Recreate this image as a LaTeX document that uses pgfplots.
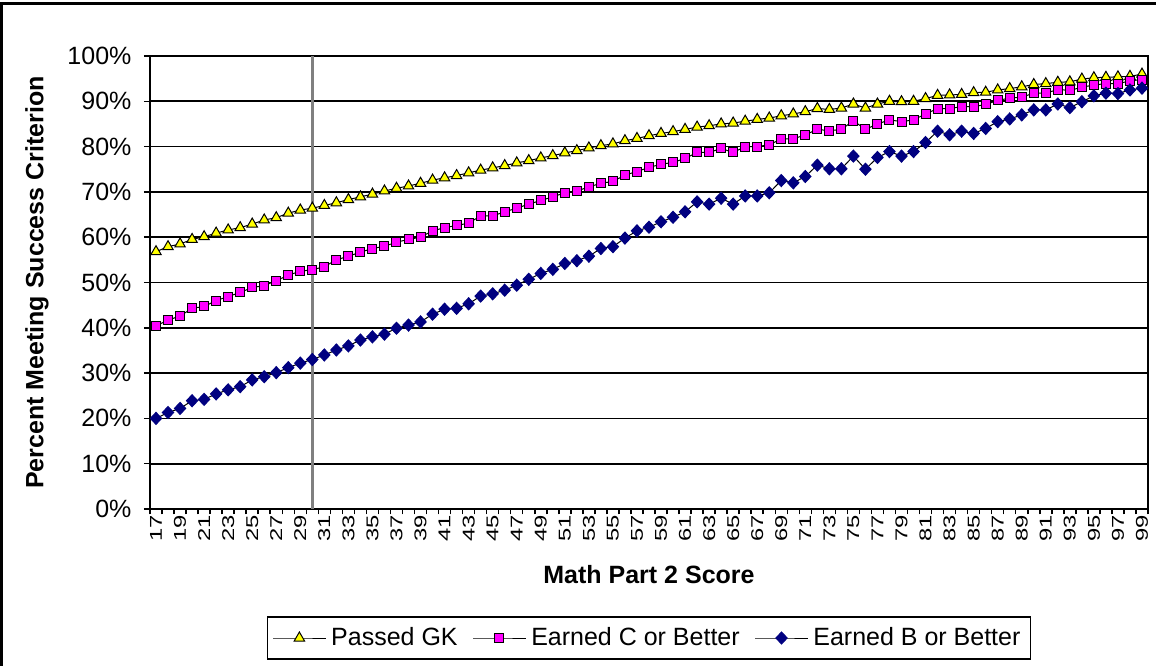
\documentclass[border=0pt]{standalone}
\usepackage{pgfplots}
\pgfplotsset{compat=1.18}
\usepackage{pgfplotstable}
\usepackage{fontspec}
\setmainfont{Liberation Sans}
\definecolor{gkyellow}{RGB}{255,255,0}
\definecolor{cmag}{RGB}{255,0,255}
\definecolor{bnavy}{RGB}{0,0,128}
\definecolor{refgray}{RGB}{128,128,128}

\pgfplotstableread{
s gk c b
17 56.8 40.4 20.0
18 57.9 41.7 21.3
19 58.5 42.6 22.2
20 59.5 44.3 23.9
21 60.1 44.7 24.2
22 60.9 46.0 25.4
23 61.6 46.9 26.3
24 62.1 47.8 27.0
25 62.9 48.9 28.5
26 63.8 49.3 29.2
27 64.3 50.4 30.1
28 65.3 51.6 31.2
29 66.0 52.5 32.2
30 66.4 52.8 33.0
31 67.0 53.5 34.0
32 67.6 55.0 35.1
33 68.3 55.8 36.0
34 68.9 56.7 37.3
35 69.5 57.5 38.0
36 70.2 58.0 38.6
37 70.8 58.9 39.9
38 71.3 59.5 40.6
39 71.9 60.0 41.3
40 72.6 61.4 43.0
41 73.1 62.1 44.1
42 73.6 62.6 44.3
43 74.2 63.1 45.3
44 74.8 64.7 47.0
45 75.3 64.7 47.5
46 75.8 65.6 48.3
47 76.4 66.4 49.4
48 76.9 67.3 50.7
49 77.5 68.1 52.0
50 78.0 68.9 52.9
51 78.6 69.8 54.2
52 79.1 70.2 54.8
53 79.7 71.1 55.8
54 80.2 71.9 57.5
55 80.6 72.3 57.9
56 81.3 73.7 59.8
57 81.8 74.5 61.4
58 82.4 75.4 62.2
59 82.9 76.1 63.4
60 83.3 76.5 64.4
61 83.8 77.4 65.6
62 84.3 78.7 67.8
63 84.6 78.7 67.3
64 85.0 79.6 68.6
65 85.2 78.7 67.3
66 85.6 80.0 69.1
67 86.0 80.0 69.1
68 86.3 80.4 69.8
69 86.8 81.7 72.5
70 87.2 81.7 72.0
71 87.7 82.6 73.4
72 88.4 83.8 75.9
73 88.2 83.5 75.1
74 88.5 83.8 75.1
75 89.4 85.7 77.9
76 88.5 83.8 75.0
77 89.4 85.0 77.6
78 90.0 85.9 78.9
79 89.9 85.5 77.9
80 90.0 85.9 78.9
81 90.6 87.2 80.9
82 91.3 88.4 83.4
83 91.4 88.4 82.6
84 91.5 88.8 83.4
85 91.9 88.8 82.9
86 92.0 89.3 84.0
87 92.5 90.2 85.5
88 92.8 90.7 86.1
89 93.2 90.9 87.0
90 93.7 91.8 88.1
91 93.9 91.8 88.1
92 94.2 92.6 89.4
93 94.3 92.4 88.6
94 94.9 93.1 89.9
95 95.2 93.6 91.2
96 95.3 93.9 91.8
97 95.4 93.9 91.7
98 95.5 94.5 92.5
99 96.0 94.8 92.9
}\datatable

\begin{document}
\begin{tikzpicture}
\begin{axis}[
  scale only axis,
  width=399.2pt, height=181.2pt,
  xmin=16.5, xmax=99.5,
  ymin=0, ymax=100,
  clip=false,
  axis line style={black, line width=0.7pt},
  xtick={17,19,...,99},
  major x tick style={draw=none},
  minor xtick={16.5,17.5,...,99.5},
  minor x tick style={black, line width=0.6pt},
  minor tick length=2.2pt,
  xtick pos=bottom,
  ytick={0,10,...,100},
  ytick pos=left,
  major y tick style={black, line width=0.6pt},
  major tick length=2.4pt,
  tick align=outside,
  ymajorgrids,
  grid style={black, line width=0.7pt},
  /pgf/number format/assume math mode=true,
  /pgf/number format/.cd, fixed, precision=0, /pgfplots/.cd,
  yticklabel={\pgfmathprintnumber{\tick}\%},
  yticklabel style={font=\fontsize{10}{12}\selectfont, xshift=-1.5pt},
  xticklabel={\scalebox{1}[0.72]{\pgfmathprintnumber{\tick}}},
  xticklabel style={yshift=3.5pt, rotate=90, anchor=east, font=\fontsize{9.5}{10}\selectfont},
  xlabel={\textbf{Math Part 2 Score}},
  ylabel={\textbf{Percent Meeting Success Criterion}},
  xlabel style={at={(axis description cs:0.5,-0.1457)}, anchor=center, font=\fontsize{10}{12}\selectfont},
  ylabel style={at={(axis description cs:-0.1132,0.5)}, anchor=center, font=\fontsize{10}{12}\selectfont},
  legend style={at={(axis description cs:0.5,-0.2848)}, anchor=center,
    legend columns=3, draw=black, line width=0.7pt, fill=white,
    font=\fontsize{10}{12}\selectfont, inner xsep=2pt, inner ysep=2pt,
    /tikz/every even column/.append style={column sep=4pt}},
  legend image code/.code={
    \draw[#1, line width=0.4pt, mark repeat=2, mark phase=2] plot coordinates {(0cm,0cm) (0.37cm,0cm) (0.74cm,0cm)};},
]
\addplot[refgray, line width=1.2pt, forget plot] coordinates {(30,0) (30,100)};
\addplot[black, line width=0.4pt, mark=triangle*, mark size=2.4pt,
  mark options={fill=gkyellow, draw=black, line width=0.4pt}] table[x=s, y=gk] {\datatable};
\addlegendentry{Passed GK}
\addplot[black, line width=0.4pt, mark=square*, mark size=1.8pt,
  mark options={fill=cmag, draw=black, line width=0.4pt}] table[x=s, y=c] {\datatable};
\addlegendentry{Earned C or Better}
\addplot[black, line width=0.4pt, mark=diamond*, mark size=2.4pt,
  mark options={fill=bnavy, draw=bnavy, xscale=1.25}] table[x=s, y=b] {\datatable};
\addlegendentry{Earned B or Better}
\end{axis}
\draw[black, line width=1.2pt] (-59.5pt,-62.8pt) -- (-59.5pt,202pt) -- (402.4pt,202pt);
\pgfresetboundingbox
\useasboundingbox (-60pt,-62.8pt) rectangle (402.4pt,203.6pt);
\end{tikzpicture}
\end{document}
